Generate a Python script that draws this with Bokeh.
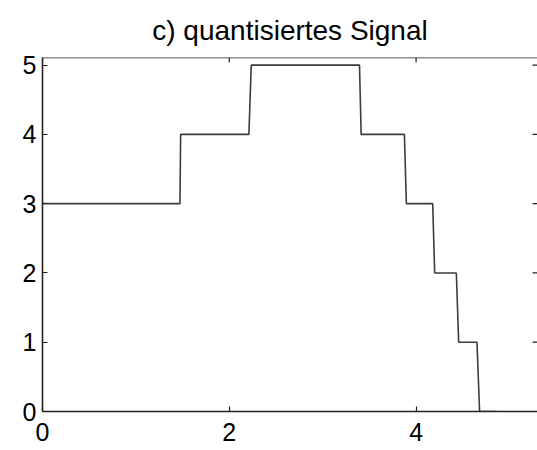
import math
from bokeh.plotting import figure
from bokeh.models import Range1d, FixedTicker, Span
from bokeh.embed import file_html
from bokeh.resources import INLINE

# step vertices of the quantised signal (time, level)
t_vals = [0, 1.472, 1.479, 2.210, 2.235, 3.394, 3.412, 3.875, 3.896,
          4.178, 4.199, 4.431, 4.456, 4.652, 4.680, 4.866]
q_vals = [3, 3, 4, 4, 5, 5, 4, 4, 3, 3, 2, 2, 1, 1, 0, 0]
x_ticks = [0, 2, 4]
y_ticks = [0, 1, 2, 3, 4, 5]
title_text = "c) quantisiertes Signal"

X_MIN, X_MAX = 0, 5.3
Y_MIN, Y_MAX = 0, 5.11

FONT = "Liberation Sans"
AX = "#222222"
TICK = 5

p = figure(width=537, height=450, output_backend="svg", toolbar_location=None,
           x_range=Range1d(X_MIN, X_MAX), y_range=Range1d(Y_MIN, Y_MAX),
           min_border_left=42, min_border_right=0, min_border_top=57,
           min_border_bottom=39, title=title_text)
p.background_fill_color = "white"
p.border_fill_color = "white"
p.grid.visible = False
p.outline_line_color = None

p.title.text_font = FONT
p.title.text_font_size = "28px"
p.title.text_font_style = "normal"
p.title.text_color = "black"
p.title.align = "center"
p.title.offset = -12
p.title.standoff = 23

# box top line
p.add_layout(Span(location=Y_MAX, dimension="width", line_color=AX, line_width=1.6))

p.line(t_vals, q_vals, line_color="#3c3c3c", line_width=1.6)

for ax, ticks, standoff in ((p.xaxis[0], x_ticks, 11), (p.yaxis[0], y_ticks, 6)):
    ax.ticker = FixedTicker(ticks=ticks)
    ax.major_tick_in = TICK
    ax.major_tick_out = 0
    ax.minor_tick_line_color = None
    ax.axis_line_color = AX
    ax.axis_line_width = 1.6
    ax.major_tick_line_color = AX
    ax.major_tick_line_width = 1.2
    ax.major_label_text_font = FONT
    ax.major_label_text_font_size = "25px"
    ax.major_label_text_color = "black"
    ax.major_label_standoff = standoff

# inward ticks on top and right sides
p.ray(x=x_ticks, y=[Y_MAX] * len(x_ticks), length=TICK, length_units="screen",
      angle=-math.pi / 2, line_color=AX, line_width=1.2)
p.ray(x=[X_MAX] * len(y_ticks), y=y_ticks, length=TICK, length_units="screen",
      angle=math.pi, line_color=AX, line_width=1.2)

open("out.html", "w").write(file_html(p, INLINE))
